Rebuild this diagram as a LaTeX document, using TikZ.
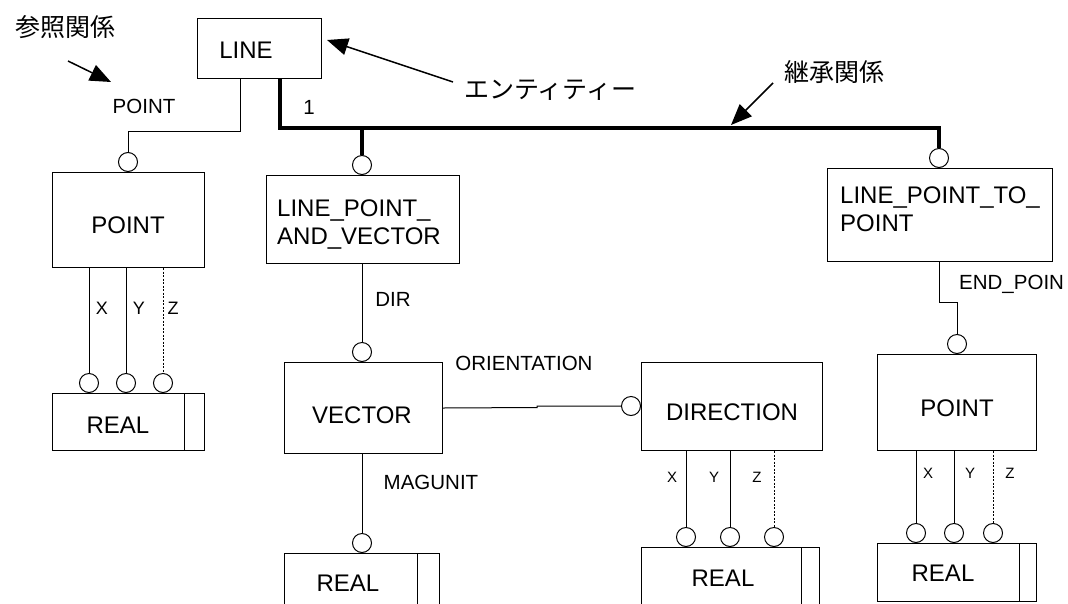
\documentclass[tikz,border=0pt]{standalone}
\usepackage{fontspec}
\setmainfont{Liberation Sans}
\newfontfamily\jp{Noto Sans CJK JP}
\usetikzlibrary{arrows.meta}
\begin{document}
\begin{tikzpicture}[x=1pt,y=-1pt,
  ent/.style={draw, line width=1pt, inner sep=0, anchor=north west},
  txt/.style={inner sep=0, font=\fontsize{24}{27}\selectfont},
  mtxt/.style={inner sep=0, anchor=north west, align=left, font=\fontsize{24}{27.5}\selectfont},
  lbl/.style={inner sep=0, font=\fontsize{20.5}{24}\selectfont},
  slbl/.style={inner sep=0, font=\fontsize{18}{22}\selectfont},
  tlbl/.style={inner sep=0, font=\fontsize{15}{18}\selectfont},
  jptxt/.style={inner sep=0, font=\fontsize{25}{30}\jp},
  circ/.style={draw, circle, fill=white, inner sep=0, minimum size=19pt, line width=1pt},
  thinl/.style={line width=1pt},
  zline/.style={line width=1pt, dash pattern=on 2pt off 1.5pt},
  thickl/.style={line width=4.5pt, line join=miter},
  annot/.style={line width=1.5pt, -{Triangle[length=21pt,width=17pt]}}
]
\useasboundingbox (0,0) rectangle (1068,603);
\clip (0,0) rectangle (1068,603);

% ---------- LINE ----------
\node[ent, minimum width=124pt, minimum height=60pt] (line) at (197,18) {};
\node[txt] (linet) at (246,50) {LINE};

% ---------- left POINT ----------
\node[ent, minimum width=152pt, minimum height=95pt] (lpt) at (52,172) {};
\node[txt] (lptt) at (128,225) {POINT};
\node[ent, minimum width=152pt, minimum height=57pt] (lreal) at (52,393) {};
\coordinate (ldiv) at (184,0);
\draw[thinl] (lreal.north -| ldiv) -- (lreal.south -| ldiv);
\node[txt] (lrealt) at (118,425) {REAL};
\node[circ, anchor=south] (c1) at (128,172) {};
\node[circ, anchor=south] (lx) at (89,393) {};
\node[circ, anchor=south] (ly) at (126,393) {};
\node[circ, anchor=south] (lz) at (163,393) {};
\draw[thinl] (lx.north |- lpt.south) -- (lx.north);
\draw[thinl] (ly.north |- lpt.south) -- (ly.north);
\draw[zline] (lz.north |- lpt.south) -- (lz.north);
\node[slbl] (lxl) at (102,308) {X};
\node[slbl] (lyl) at (139,308) {Y};
\node[slbl] (lzl) at (173,308) {Z};

\coordinate (p1) at (240,131);
\coordinate (p2) at (128,131);
\draw[thinl] (line.south -| p1) -- (p1) -- (p2) -- (c1.north);
\node[lbl] (pointl) at (144,106) {POINT};

% ---------- LINE_POINT_AND_VECTOR ----------
\node[ent, minimum width=193pt, minimum height=88pt] (lpav) at (266,175) {};
\node[mtxt] (lpavt) at (277,200) {LINE\_POINT\_\\AND\_VECTOR};
\node[circ, anchor=south] (c2) at (362,175) {};

% ---------- VECTOR ----------
\node[ent, minimum width=158pt, minimum height=91pt] (vec) at (284,362) {};
\node[txt] (vect) at (362,415) {VECTOR};
\node[circ, anchor=south] (c3) at (362,362) {};
\draw[thinl] (c3.north |- lpav.south) -- (c3.north);
\node[lbl] (dirl) at (393,299) {DIR};

\node[ent, minimum width=155pt, minimum height=70pt] (mreal) at (284,553) {};
\coordinate (mdiv) at (417,0);
\draw[thinl] (mreal.north -| mdiv) -- (mreal.south -| mdiv);
\node[txt] (mrealt) at (348,583) {REAL};
\node[circ, anchor=south] (c4) at (362,553) {};
\draw[thinl] (c4.north |- vec.south) -- (c4.north);
\node[lbl] (magl) at (431,482) {MAGUNIT};

% ---------- DIRECTION ----------
\node[ent, minimum width=181pt, minimum height=88pt] (dir) at (641,362) {};
\node[txt] (dirt) at (732,412) {DIRECTION};
\node[circ, anchor=east] (c5) at (641,406) {};
\coordinate (o1) at (537,407.5);
\coordinate (o2) at (537,406);
\draw[thinl] (vec.east) -- (o1) -- (o2) -- (c5.west);
\node[lbl] (orl) at (524,363) {ORIENTATION};

\node[ent, minimum width=178pt, minimum height=70pt] (dreal) at (641,547) {};
\coordinate (ddiv) at (801,0);
\draw[thinl] (dreal.north -| ddiv) -- (dreal.south -| ddiv);
\node[txt] (drealt) at (723,578) {REAL};
\node[circ, anchor=south] (dx) at (686,547) {};
\node[circ, anchor=south] (dy) at (730,547) {};
\node[circ, anchor=south] (dz) at (774,547) {};
\draw[thinl] (dx.north |- dir.south) -- (dx.north);
\draw[thinl] (dy.north |- dir.south) -- (dy.north);
\draw[zline] (dz.north |- dir.south) -- (dz.north);
\node[tlbl] (dxl) at (672,477) {X};
\node[tlbl] (dyl) at (714,477) {Y};
\node[tlbl] (dzl) at (757,477) {Z};

% ---------- LINE_POINT_TO_POINT ----------
\node[ent, minimum width=225pt, minimum height=93pt] (lptp) at (827,168) {};
\node[mtxt] (lptpt) at (840,187) {LINE\_POINT\_TO\_\\POINT};
\node[circ, anchor=south] (c6) at (939,168) {};

% inheritance (thick)
\coordinate (t1) at (280,128);
\coordinate (t2) at (939,128);
\draw[thickl] (line.south -| t1) -- (t1) -- (t2) -- (c6.north);
\draw[thickl] (c2.north |- t1) -- (c2.north);
\node[lbl] (onel) at (309,107) {1};

% ---------- right POINT ----------
\node[ent, minimum width=159pt, minimum height=96pt] (rpt) at (877,354) {};
\node[txt] (rptt) at (957,408) {POINT};
\node[circ, anchor=south] (c7) at (957,354) {};
\coordinate (e1) at (939,302);
\coordinate (e2) at (957,302);
\draw[thinl] (lptp.south -| e1) -- (e1) -- (e2) -- (c7.north);
\node[lbl, anchor=west] (endl) at (959,284) {END\_POIN};

\node[ent, minimum width=159pt, minimum height=58pt] (rreal) at (877,543) {};
\coordinate (rdiv) at (1019,0);
\draw[thinl] (rreal.north -| rdiv) -- (rreal.south -| rdiv);
\node[txt] (rrealt) at (943,573) {REAL};
\node[circ, anchor=south] (rx) at (916,543) {};
\node[circ, anchor=south] (ry) at (954,543) {};
\node[circ, anchor=south] (rz) at (993,543) {};
\draw[thinl] (rx.north |- rpt.south) -- (rx.north);
\draw[thinl] (ry.north |- rpt.south) -- (ry.north);
\draw[zline] (rz.north |- rpt.south) -- (rz.north);
\node[tlbl] (rxl) at (928,473) {X};
\node[tlbl] (ryl) at (970,473) {Y};
\node[tlbl] (rzl) at (1010,473) {Z};

% ---------- annotations ----------
\node[jptxt] (jref) at (65,27) {参照関係};
\coordinate (a1s) at (68,61);
\coordinate (a1e) at (111,82);
\draw[annot] (a1s) -- (a1e);

\node[jptxt] (jent) at (550,90) {エンティティー};
\coordinate (a2s) at (453,82);
\coordinate (a2e) at (327,40);
\draw[annot] (a2s) -- (a2e);

\node[jptxt] (jinh) at (834,72) {継承関係};
\coordinate (a3s) at (773,83);
\coordinate (a3e) at (731,125);
\draw[annot] (a3s) -- (a3e);
\end{tikzpicture}
\end{document}
